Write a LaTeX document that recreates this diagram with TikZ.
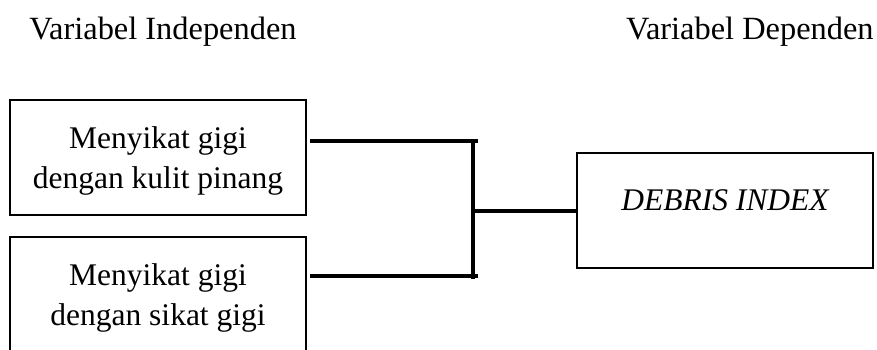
\documentclass[tikz,border=0pt]{standalone}
\usepackage{fontspec}
\setmainfont{Liberation Serif}
\usetikzlibrary{positioning,calc}

\begin{document}
\begin{tikzpicture}[x=0.5pt,y=-0.5pt,
    kotak/.style={draw,line width=1pt,outer sep=0pt,inner sep=0pt,
      minimum width=148pt,minimum height=57.5pt,align=center,text depth=0pt,
      font=\fontsize{15.75}{20}\selectfont},
    garis/.style={line width=2pt},
    judul/.style={inner sep=0pt,font=\fontsize{16.2}{20}\selectfont}]
    \useasboundingbox (0,0) rectangle (877,349);
    % judul kolom
    \node[judul,anchor=base west] (judulX) at (29,39) {Variabel Independen};
    \node[judul,anchor=base east] (judulY) at (874,39) {Variabel Dependen};
    % variabel independen
    \node[kotak] (kulit) at (158,157.5) {Menyikat gigi\\dengan kulit pinang};
    \node[kotak,below=11pt of kulit] (sikat) {Menyikat gigi\\dengan sikat gigi};
    % variabel dependen
    \node[kotak,text depth=10pt,font=\fontsize{15.75}{20}\selectfont\itshape] (debris) at (725,210.5) {DEBRIS INDEX};
    % garis penghubung
    \coordinate (atas) at ($(kulit.north east)+(4,41)$);
    \coordinate (bawah) at ($(sikat.north east)+(4,39)$);
    \coordinate (simpul) at ($(debris.west)+(-104,0)$);
    \draw[garis] (atas) -- ($(atas -| simpul)+(5,0)$);
    \draw[garis] (bawah) -- ($(bawah -| simpul)+(5,0)$);
    \draw[garis] (atas -| simpul) -- ($(bawah -| simpul)+(0,3)$);
    \draw[garis] (simpul) -- (debris.west);
\end{tikzpicture}
\end{document}
